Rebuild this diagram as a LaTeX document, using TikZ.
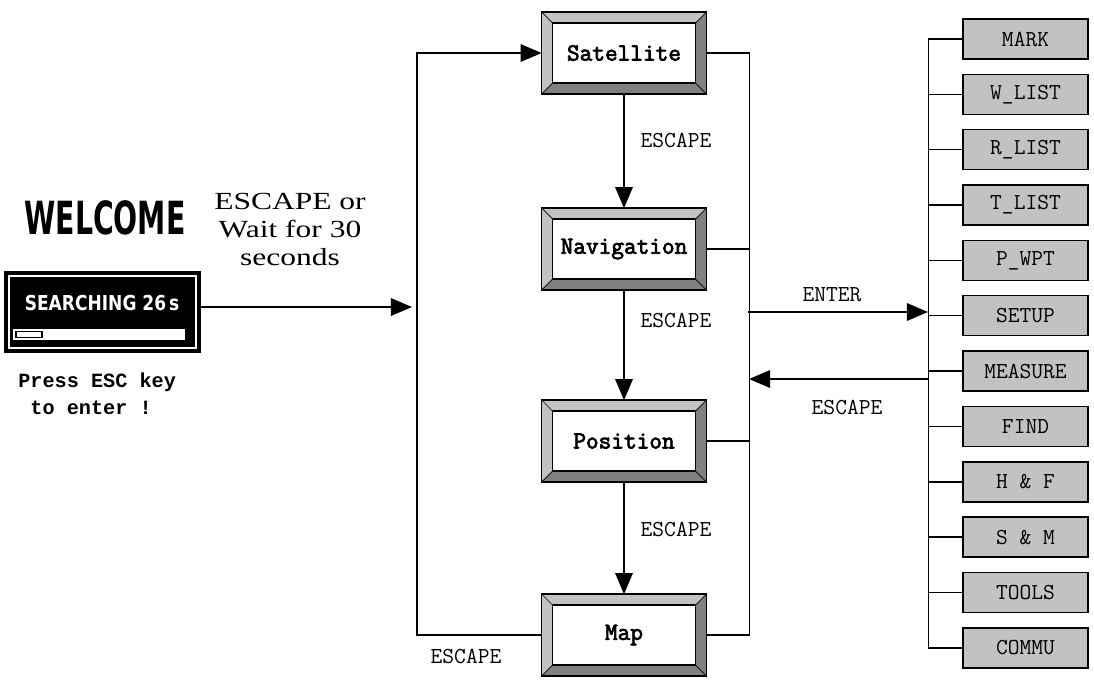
\documentclass[tikz,border=0pt]{standalone}
\usepackage{fontspec}
\setmainfont{Liberation Serif}
\newfontfamily\lcdfont{DejaVu Sans}
\newfontfamily\pressfont{Liberation Mono}
\newfontfamily\boxfont[AutoFakeBold=3]{Latin Modern Mono}
\usetikzlibrary{calc}
\usetikzlibrary{arrows.meta}
\definecolor[named]{BevLight}{gray}{0.76}
\definecolor[named]{BevDark}{gray}{0.50}
\definecolor[named]{MenuGray}{gray}{0.76}
\newcommand{\bvw}{0.22cm}
\newcommand{\bevel}[1]{%
  \coordinate (#1-nw) at ($(#1.north west)+(\bvw,-\bvw)$);
  \coordinate (#1-ne) at ($(#1.north east)+(-\bvw,-\bvw)$);
  \coordinate (#1-sw) at ($(#1.south west)+(\bvw,\bvw)$);
  \coordinate (#1-se) at ($(#1.south east)+(-\bvw,\bvw)$);
  \fill[BevLight] (#1.north west) -- (#1.north east) -- (#1-ne) -- (#1-nw) -- cycle;
  \fill[BevLight] (#1.north west) -- (#1-nw) -- (#1-sw) -- (#1.south west) -- cycle;
  \fill[BevDark] (#1.north east) -- (#1.south east) -- (#1-se) -- (#1-ne) -- cycle;
  \fill[BevDark] (#1.south west) -- (#1.south east) -- (#1-se) -- (#1-sw) -- cycle;
  \draw[thin] (#1.north west) -- (#1-nw) (#1.north east) -- (#1-ne)
    (#1.south west) -- (#1-sw) (#1.south east) -- (#1-se);
  \draw[line width=0.8pt] (#1-nw) rectangle (#1-se);
  \draw[line width=0.8pt] (#1.north west) rectangle (#1.south east);
}
\tikzset{
  line/.style={line width=0.8pt},
  arr/.style={line, -{Triangle[length=12pt,width=10pt]}},
  mode/.style={fill=white, minimum width=3.28cm, minimum height=1.62cm,
    inner sep=0pt, font=\boxfont\bfseries\fontsize{14}{14}\selectfont},
  menu/.style={draw, line, fill=MenuGray, minimum width=2.5cm, minimum height=0.8cm,
    inner sep=0pt, font=\ttfamily\fontsize{13}{13}\selectfont},
  lbl/.style={font=\ttfamily\fontsize{13}{13}\selectfont, inner sep=1pt}
}
\begin{document}
\begin{tikzpicture}[x=0.02cm,y=-0.02cm]
    \useasboundingbox (0,0) rectangle (1094,681);
    % Welcome screen
    \node (welcome) at (105,218)
      {\scalebox{0.62}[1]{\lcdfont\bfseries\fontsize{26}{26}\selectfont WELCOME}};
    \node[fill=black, draw=black, line width=0.8pt, minimum width=3.9cm,
      minimum height=1.6cm, inner sep=0pt] (search) at (102.5,312) {};
    \draw[white, line width=0.6pt] (9,276) rectangle (196,348);
    \node[text=white] (searchtxt) at (102,303)
      {\scalebox{0.83}[1]{\lcdfont\bfseries\fontsize{11.7}{12}\selectfont SEARCHING 26\,s}};
    \fill[white] (13,329) rectangle (185,340);
    \draw[black, line width=0.6pt] (16,331.5) rectangle (42,337.5);
    \node[anchor=west, align=left, inner sep=0pt,
      font=\pressfont\bfseries\fontsize{11.5}{15.5}\selectfont] (press) at (18,394)
      {Press ESC key\\~to enter !};
    \node (wait) at (290,232)
      {\scalebox{1.28}[1]{\fontsize{14}{16}\selectfont
       \begin{tabular}{@{}c@{}}ESCAPE or\\Wait for 30\\seconds\end{tabular}}};
    % Mode screens
    \node[mode] (sat) at (624,53) {Satellite};
    \node[mode] (nav) at (624,249) {Navigation};
    \node[mode] (pos) at (624,441) {Position};
    \node[mode] (map) at (624,635) {Map};
    \foreach \b in {sat,nav,pos,map} {\bevel{\b}}
    % Mode loop
    \coordinate (loopin) at (412,307);
    \coordinate (loopbl) at (417,635);
    \draw[arr] (search.east |- loopin) -- (loopin);
    \draw[arr] (map.west) -- (loopbl) |- (sat.west);
    \draw[arr] (sat.south) -- (nav.north);
    \draw[arr] (nav.south) -- (pos.north);
    \draw[arr] (pos.south) -- (map.north);
    \node[lbl] (esc1) at (676,140) {ESCAPE};
    \node[lbl] (esc2) at (676,320) {ESCAPE};
    \node[lbl] (esc3) at (676,529) {ESCAPE};
    \node[lbl] (esc4) at (466,656) {ESCAPE};
    % Right bus
    \draw[line] (sat.east) -- ++(43,0) |- (map.east);
    \draw[line] (nav.east) -- ++(43,0);
    \draw[line] (pos.east) -- ++(43,0);
    % Menu pages
    \foreach \nm/\txt [count=\i from 0] in {mark/MARK, wlist/W\_LIST, rlist/R\_LIST,
      tlist/T\_LIST, pwpt/P\_WPT, setup/SETUP, measure/MEASURE, find/FIND,
      hf/H \& F, sm/S \& M, tools/TOOLS, commu/COMMU}
      \node[menu] (\nm) at (1025.5,39+55.35*\i) {\txt};
    \draw[line] (mark.west) -- ++(-34,0) |- (commu.west);
    \foreach \nm in {wlist,rlist,tlist,pwpt,setup,measure,find,hf,sm,tools}
      \draw[line] (\nm.west) -- ++(-34,0);
    % Enter / escape
    \coordinate (enterL) at (748,312);
    \coordinate (enterR) at (928,312);
    \coordinate (backR) at (929,379);
    \coordinate (backL) at (749,379);
    \draw[arr] (enterL) -- (enterR);
    \draw[arr] (backR) -- (backL);
    \node[lbl] (enter) at (832,295) {ENTER};
    \node[lbl] (esc5) at (847,407) {ESCAPE};
\end{tikzpicture}
\end{document}
